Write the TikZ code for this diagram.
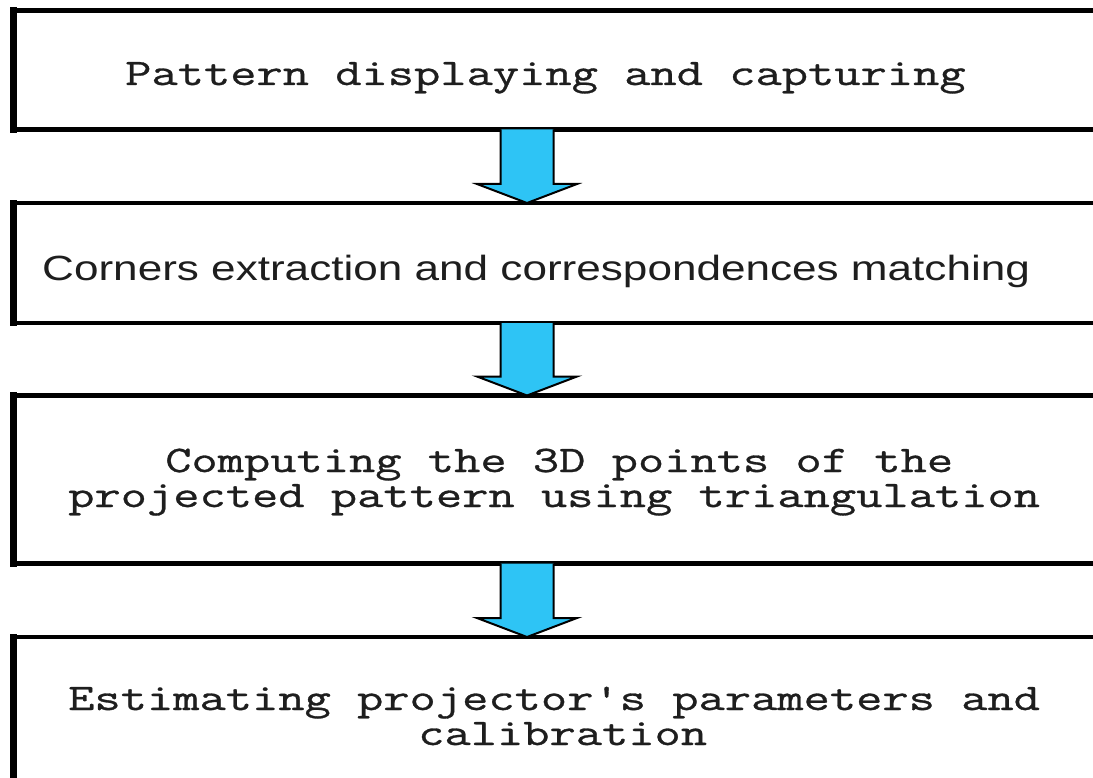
\documentclass[tikz,border=0pt]{standalone}
\usepackage{fontspec}
\usetikzlibrary{calc}
\newfontfamily\monof[FakeStretch=1.36, FakeBold=0.8]{Latin Modern Mono}
\newfontfamily\sansf[FakeStretch=1.26]{Liberation Sans}
\definecolor{arrowblue}{HTML}{2EC4F5}
\definecolor{txt}{HTML}{1E1E1E}
\tikzset{
  stepbox/.style={draw=black, line width=4.5pt, rectangle, inner sep=0pt, outer sep=0pt, anchor=north west, minimum width=1100pt},
  leftedge/.style={line width=6.5pt, line cap=rect},
  monotext/.style={font=\monof\fontsize{37.5}{35}\selectfont, text=txt, inner sep=0pt, anchor=base west},
  sanstext/.style={font=\sansf\fontsize{35}{40}\selectfont, text=txt, inner sep=0pt, anchor=base west},
  blockarrow/.style={fill=arrowblue, draw=black, line width=2pt, line join=miter},
}
\begin{document}
\begin{tikzpicture}[x=1pt,y=-1pt]
\useasboundingbox (0,0) rectangle (1093,778);
\fill[white] (0,0) rectangle (1093,778);
\clip (0,0) rectangle (1093,778);

\node[stepbox, minimum height=119pt] (b1) at (13.5,10.5) {};
\node[stepbox, minimum height=120pt] (b2) at (13.5,203) {};
\node[stepbox, minimum height=168pt] (b3) at (13.5,395.5) {};
\node[stepbox, minimum height=168pt] (b4) at (13.5,637) {};
\foreach \b in {b1,b2,b3,b4} {
  \draw[leftedge] (\b.north west) -- (\b.south west);
}

\coordinate (ax) at (527,0);
\foreach \a/\b in {b1/b2,b2/b3,b3/b4} {
  \filldraw[blockarrow]
    ($(\a.south -| ax)+(-26.5,0)$) -- ($(\b.north -| ax)+(-26.5,-19)$)
    -- ($(\b.north -| ax)+(-50,-19)$) -- (\b.north -| ax)
    -- ($(\b.north -| ax)+(50,-19)$) -- ($(\b.north -| ax)+(26.5,-19)$)
    -- ($(\a.south -| ax)+(26.5,0)$);
}

\node[monotext] (t1) at (125,85) {Pattern displaying and capturing};
\node[sanstext] (t2) at (42,280) {Corners extraction and correspondences matching};
\node[monotext] (t3a) at (165,472) {Computing the 3D points of the};
\node[monotext] (t3b) at (68,507) {projected pattern using triangulation};
\node[monotext] (t4a) at (68,710) {Estimating projector's parameters and};
\node[monotext] (t4b) at (418,745) {calibration};
\end{tikzpicture}
\end{document}
